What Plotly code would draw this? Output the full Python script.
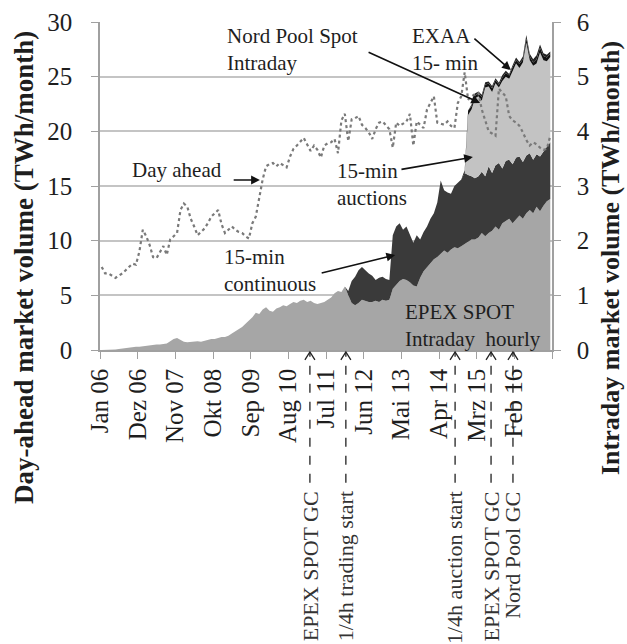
import plotly.graph_objects as go

# ---------------- data (monthly, Jan 2006 .. Dec 2016) ----------------
month_index = list(range(132))

tick_positions = [0, 11, 22, 33, 44, 55, 66, 77, 88, 99, 110, 121, 132]
tick_labels = ["Jan 06", "Dez 06", "Nov 07", "Okt 08", "Sep 09", "Aug 10",
               "Jul 11", "Jun 12", "Mai 13", "Apr 14", "Mrz 15", "Feb 16", ""]

# Day-ahead market volume (TWh/month, left axis)
day_ahead = [
    7.6, 7.0, 7.0, 6.8, 6.6, 6.8, 7.0, 7.3, 7.6, 7.9, 7.8, 9.0,
    11.0, 10.4, 9.6, 8.5, 8.4, 9.0, 9.5, 8.7, 10.1, 10.4, 10.7, 12.8,
    13.4, 13.1, 12.0, 11.3, 10.5, 10.8, 11.1, 11.6, 12.2, 12.5, 12.8, 11.5,
    10.7, 11.0, 11.3, 11.0, 10.8, 10.7, 10.4, 10.2, 11.6, 12.2, 13.8, 15.6,
    16.8, 17.0, 17.1, 16.8, 17.1, 16.9, 16.7, 17.7, 18.4, 18.7, 19.1, 19.4,
    18.8, 18.2, 18.7, 18.3, 17.6, 18.7, 18.9, 19.0, 19.3, 18.0, 21.0, 21.6,
    19.1, 21.1, 21.2, 21.4, 20.6, 20.3, 19.9, 19.3, 20.2, 20.8, 20.9, 20.5,
    20.2, 18.5, 20.8, 20.5, 20.7, 20.9, 21.6, 18.7, 20.9, 20.6, 20.3, 22.0,
    22.6, 23.2, 20.8, 20.7, 20.6, 20.9, 20.5, 20.3, 22.6, 23.2, 25.4, 22.9,
    23.2, 23.4, 23.5, 22.0, 21.1, 20.0, 19.8, 19.6, 23.9, 23.5, 23.2, 21.4,
    21.0, 20.8, 20.5, 19.9, 19.2, 18.7, 19.0, 18.8, 18.5, 18.3, 18.4, 19.6,
]

# Intraday volumes (TWh/month, right axis), stacked
epex_hourly = [
    0.00, 0.00, 0.00, 0.00, 0.01, 0.02, 0.03, 0.04, 0.04, 0.05, 0.06, 0.06,
    0.07, 0.08, 0.08, 0.09, 0.10, 0.10, 0.11, 0.12, 0.16, 0.20, 0.22, 0.18,
    0.15, 0.14, 0.15, 0.16, 0.16, 0.15, 0.17, 0.19, 0.20, 0.20, 0.22, 0.24,
    0.24, 0.26, 0.30, 0.34, 0.38, 0.42, 0.48, 0.54, 0.60, 0.68, 0.66, 0.74,
    0.78, 0.72, 0.70, 0.76, 0.78, 0.82, 0.80, 0.84, 0.88, 0.86, 0.90, 0.92,
    0.88, 0.90, 0.86, 0.84, 0.86, 0.88, 0.92, 0.96, 1.04, 1.08, 1.06, 1.16,
    1.00, 0.86, 0.82, 0.86, 0.92, 0.90, 0.88, 0.88, 0.90, 0.88, 0.92, 0.90,
    0.92, 1.12, 1.20, 1.26, 1.30, 1.28, 1.24, 1.18, 1.16, 1.32, 1.44, 1.52,
    1.58, 1.66, 1.70, 1.76, 1.82, 1.78, 1.84, 1.88, 1.86, 1.90, 1.94, 1.98,
    2.02, 2.02, 2.06, 2.14, 2.08, 2.14, 2.18, 2.26, 2.20, 2.32, 2.36, 2.40,
    2.32, 2.40, 2.46, 2.40, 2.50, 2.56, 2.50, 2.62, 2.54, 2.64, 2.72, 2.76,
]

continuous_15min = [0.0] * 72 + [
    0.08, 0.40, 0.52, 0.60, 0.60, 0.56, 0.52, 0.48, 0.38, 0.44, 0.42, 0.40,
    0.36, 0.98, 1.06, 1.06, 0.90, 0.98, 0.86, 0.78, 0.94, 0.70, 0.72, 0.74,
    0.82, 0.84, 1.00, 1.34, 1.10, 1.10, 1.02, 1.12, 1.20, 1.22, 1.30, 1.22,
    1.16, 1.12, 1.12, 1.12, 1.10, 1.22, 1.06, 1.12, 1.22, 1.00, 1.10, 1.08,
    1.08, 1.12, 1.08, 1.04, 1.06, 1.04, 0.98, 0.96, 1.00, 1.00, 1.00, 1.04,
]

auctions_15min = [0.0] * 107 + [
    1.10, 1.22, 1.46, 1.46, 1.30, 1.62, 1.46, 1.48, 1.50, 1.38, 1.60, 1.54,
    1.48, 1.70, 1.72, 1.62, 1.82, 2.06, 1.70, 1.72, 1.66, 1.90, 1.66, 1.56,
    1.56,
]

nordpool_intraday = [0.0] * 106 + [
    0.05, 0.08, 0.06, 0.05, 0.06, 0.07, 0.05, 0.06, 0.07, 0.06, 0.05, 0.06,
    0.07, 0.06, 0.07, 0.06, 0.07, 0.06, 0.08, 0.07, 0.06, 0.08, 0.09, 0.08,
    0.07, 0.06,
]

exaa_15min = [0.0] * 108 + [
    0.03, 0.04, 0.03, 0.04, 0.05, 0.03, 0.04, 0.03, 0.04, 0.05, 0.04, 0.03,
    0.04, 0.05, 0.04, 0.05, 0.06, 0.05, 0.06, 0.07, 0.06, 0.05, 0.05, 0.04,
]

# Market events marked below the time axis (month index, label)
event_months = [61.3, 71.8, 103.7, 114.2, 120.6]
event_labels = ["EPEX SPOT GC", "1/4h trading start", "1/4h auction start",
                "EPEX SPOT GC", "Nord Pool GC"]

# ---------------- figure ----------------
x_mid = [m + 0.5 for m in month_index]
FONT = "Liberation Serif, Times New Roman, serif"
TXT = "#1e1e1e"

fig = go.Figure()

area_specs = [
    ("EPEX SPOT Intraday hourly", epex_hourly, "#a6a6a6"),
    ("15-min continuous", continuous_15min, "#3a3a3a"),
    ("15-min auctions", auctions_15min, "#c3c3c3"),
    ("Nord Pool Spot Intraday", nordpool_intraday, "#111111"),
    ("EXAA 15-min", exaa_15min, "#222222"),
]
for name, vals, col in area_specs:
    fig.add_trace(go.Scatter(
        x=x_mid, y=vals, name=name, mode="lines", stackgroup="intraday",
        line=dict(width=0, color=col), fillcolor=col, yaxis="y",
        hoverinfo="skip"))

fig.add_trace(go.Scatter(
    x=x_mid, y=day_ahead, name="Day ahead", mode="lines",
    line=dict(color="#7a7a7a", width=2.2, dash="dot"), yaxis="y2"))

# event markers: dashed lines + open chevrons
for xm in event_months:
    fig.add_shape(type="line", xref="x", yref="paper", x0=xm, x1=xm,
                  y0=-0.405, y1=-0.008,
                  line=dict(color="#222222", width=1.3, dash="dash"))
    fig.add_shape(type="path", xref="x", yref="paper", xsizemode="pixel",
                  ysizemode="pixel", xanchor=xm, yanchor=-0.006,
                  path="M -5 -8 L 0 0 L 5 -8",
                  line=dict(color="#222222", width=1.3))
for xm, lab in zip(event_months, event_labels):
    fig.add_annotation(x=xm, y=-0.425, xref="x", yref="paper", text=lab,
                       textangle=-90, showarrow=False, xanchor="center",
                       yanchor="top", font=dict(family=FONT, size=22, color="#333333"))

# in-chart labels (positions in left-axis units)
labels = [
    ("Day ahead", 22.6, 16.5, "center"),
    ("15-min<br>continuous", 35.6, 7.3, "left"),
    ("15-min<br>auctions", 68.6, 15.1, "left"),
    ("Nord Pool Spot<br>Intraday", 36.5, 27.5, "left"),
    ("EXAA<br>15- min", 90.5, 27.5, "left"),
    ("EPEX SPOT<br>Intraday  hourly", 88.5, 2.2, "left"),
]
for txt, lx, ly, xa in labels:
    fig.add_annotation(x=lx, y=ly, xref="x", yref="y2", text=txt,
                       showarrow=False, xanchor=xa, yanchor="middle", align="left",
                       font=dict(family=FONT, size=21, color=TXT))

arrows = [
    (38.6, 15.55, 46.7, 15.55),
    (64.3, 7.0, 86.2, 8.7),
    (87.6, 16.5, 108.9, 17.65),
    (78.0, 27.3, 111.0, 22.6),
    (108.9, 28.6, 120.0, 25.6),
]
for tx, ty, hx, hy in arrows:
    fig.add_annotation(x=hx, y=hy, ax=tx, ay=ty, xref="x", yref="y2",
                       axref="x", ayref="y2", text="", showarrow=True,
                       arrowhead=2, arrowsize=1.1, arrowwidth=1.6,
                       arrowcolor="#111111", standoff=0)

# axis titles
fig.add_annotation(x=-0.168, y=0.25, xref="paper", yref="paper",
                   xanchor="center", yanchor="middle",
                   text="<b>Day-ahead market volume (TWh/month)</b>",
                   textangle=-90, showarrow=False,
                   font=dict(family=FONT, size=27, color=TXT))
fig.add_annotation(x=1.128, y=0.28, xref="paper", yref="paper",
                   xanchor="center", yanchor="middle",
                   text="<b>Intraday market volume (TWh/month)</b>",
                   textangle=-90, showarrow=False,
                   font=dict(family=FONT, size=26, color=TXT))

fig.update_layout(
    template="none",
    width=627, height=644,
    margin=dict(l=100, r=75, t=22, b=294, autoexpand=False),
    paper_bgcolor="white", plot_bgcolor="white",
    showlegend=False,
    font=dict(family=FONT, color=TXT),
    xaxis=dict(range=[0, 132], tickmode="array", tickvals=tick_positions,
               ticktext=tick_labels, tickangle=-90, ticks="outside",
               ticklen=7, tickcolor="#a0a0a0", showgrid=False, zeroline=False,
               showline=True, linecolor="#a0a0a0", linewidth=1.5,
               automargin=False,
               tickfont=dict(family=FONT, size=25, color=TXT)),
    yaxis=dict(range=[0, 6], dtick=1, side="right", showgrid=True,
               gridcolor="#c4c4c4", gridwidth=1.5, zeroline=False,
               showline=True, linecolor="#a0a0a0", linewidth=1.5,
               ticks="outside", ticklen=7, tickcolor="#a0a0a0",
               automargin=False, ticklabelstandoff=11,
               tickfont=dict(family=FONT, size=25, color=TXT)),
    yaxis2=dict(range=[0, 30], dtick=5, side="left", overlaying="y",
                showgrid=False, zeroline=False, showline=True,
                linecolor="#a0a0a0", linewidth=1.5, ticks="outside",
                ticklen=7, tickcolor="#a0a0a0",
                automargin=False, ticklabelstandoff=14,
                tickfont=dict(family=FONT, size=25, color=TXT)),
)

fig.write_html("out.html", config={"displayModeBar": False},
               post_script="document.body.style.margin='0';")
